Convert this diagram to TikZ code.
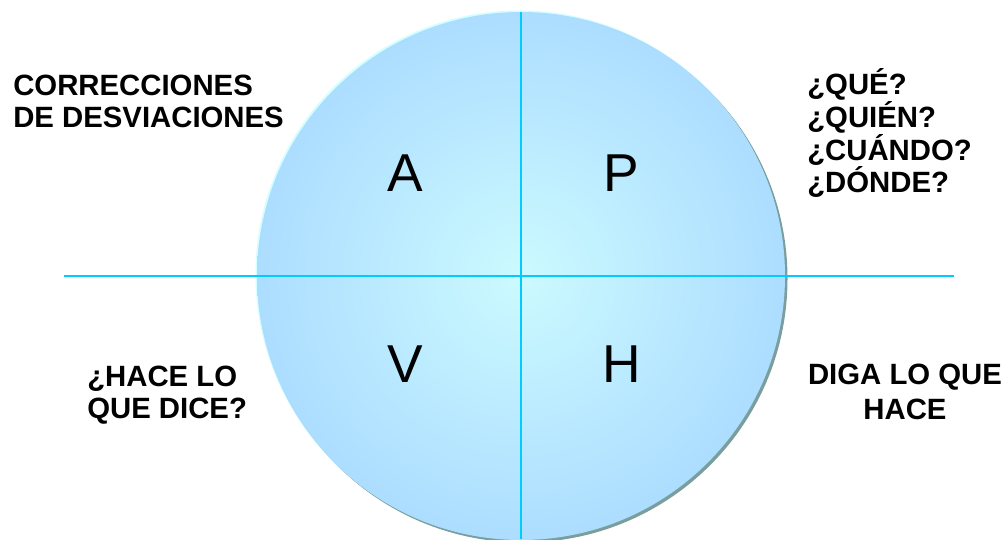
\documentclass[tikz,border=0pt]{standalone}
\usepackage{fontspec}
\setmainfont{Liberation Sans}
\usetikzlibrary{positioning}

\definecolor{discout}{RGB}{153,204,255}
\definecolor{discin}{RGB}{204,250,255}
\definecolor{axisline}{RGB}{0,204,255}
\definecolor{discshadow}{RGB}{122,158,158}
\definecolor{discglow}{RGB}{210,255,255}
\pgfdeclareradialshading{discshade}{\pgfpoint{0bp}{0bp}}{color(0bp)=(discin); color(40bp)=(discout); color(50bp)=(discout)}

\begin{document}
\begin{tikzpicture}[x=0.75pt, y=-0.75pt,
    side/.style = {font=\fontsize{22}{24}\selectfont\bfseries, inner sep=0pt},
    letter/.style = {font=\fontsize{40}{48}\selectfont, inner sep=0pt, anchor=base},
    axis/.style = {draw=axisline, line width=1.5pt}
]
\useasboundingbox (0,0) rectangle (1006,539);

% the disc
\coordinate (c) at (521,276);
\fill[discshadow] ([shift={(2.5,2.5)}]c) circle[radius=198pt];
\fill[discglow] ([shift={(-1.5,-1.5)}]c) circle[radius=198pt];
\shade[shading=discshade] (c) circle[radius=198pt];

% axes
\coordinate (ax_top) at (521,12);
\coordinate (ax_bot) at (521,539);
\coordinate (ax_left) at (64,276);
\coordinate (ax_right) at (954,276);
\draw[axis] (ax_top) -- (ax_bot);
\draw[axis] (ax_left) -- (ax_right);

% quadrant letters
\node (q_a) [letter] at (405,191) {A};
\node (q_p) [letter] at (621,191) {P};
\node (q_v) [letter] at (405,382) {V};
\node (q_h) [letter] at (622,382) {H};

% side texts (anchored on the last line)
\node (t_corr) [side, align=left, anchor=base west] at (13,127) {CORRECCIONES\\DE DESVIACIONES};
\node (t_plan) [side, align=left, anchor=base west, font=\fontsize{22}{23.3}\selectfont\bfseries] at (807,192) {¿QUÉ?\\¿QUIÉN?\\¿CUÁNDO?\\¿DÓNDE?};
\node (t_does) [side, align=left, anchor=base west] at (87,418) {¿HACE LO\\QUE DICE?};
\node (t_tell) [side, align=center, anchor=base, font=\fontsize{22}{26}\selectfont\bfseries] at (905,419) {DIGA LO QUE\\HACE};

\end{tikzpicture}
\end{document}
